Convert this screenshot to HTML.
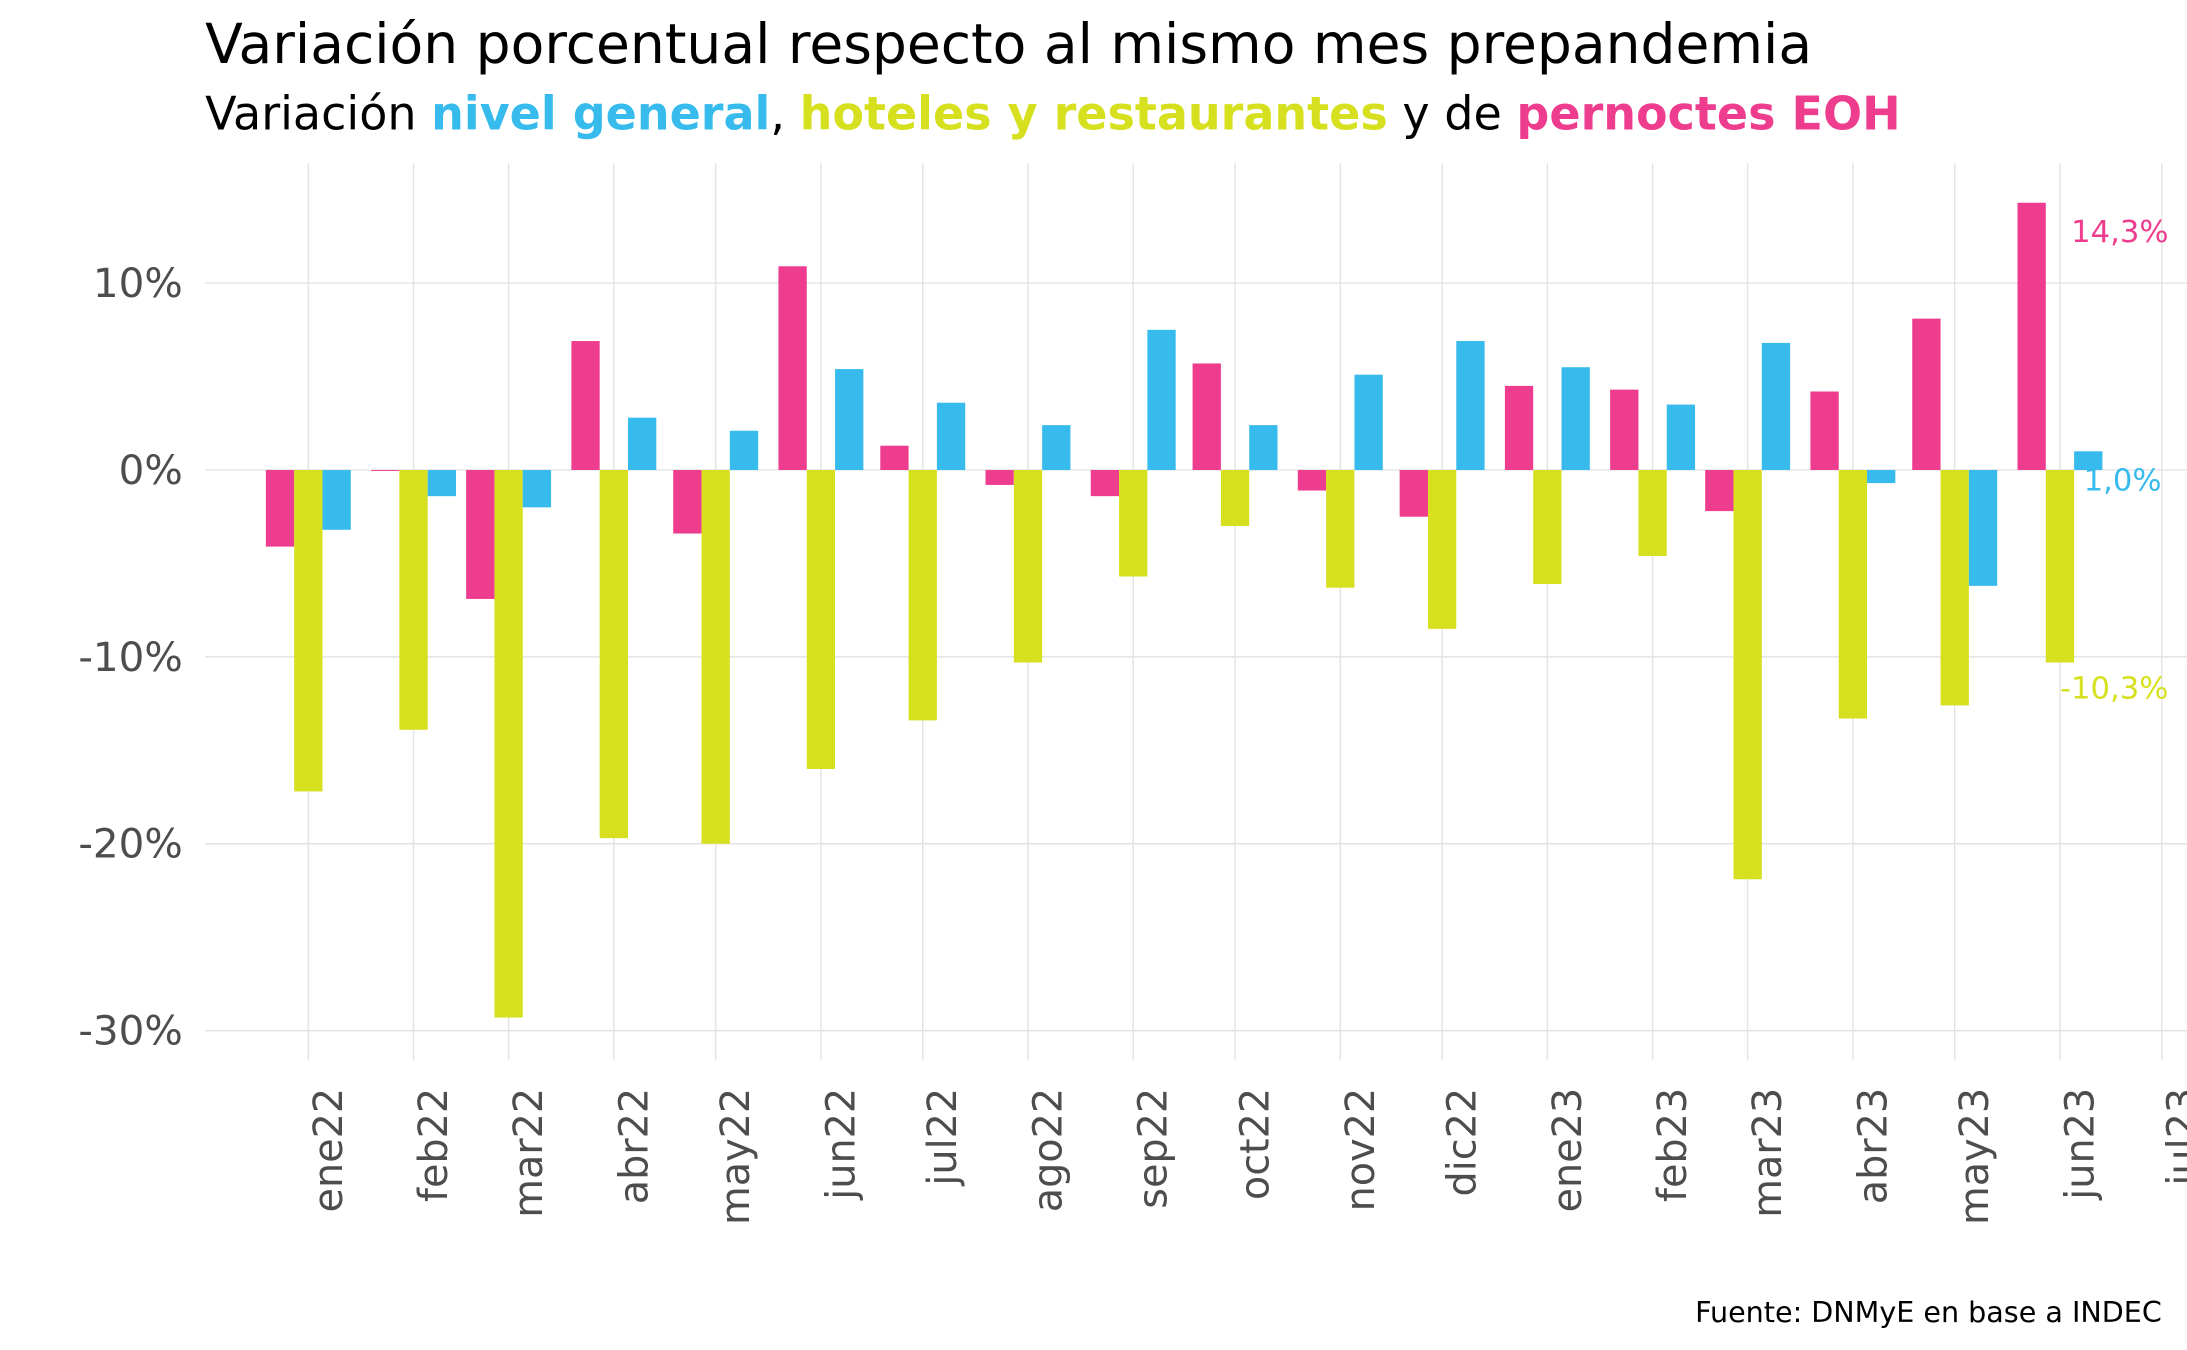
<!DOCTYPE html>
<html><head><meta charset="utf-8"><style>
html,body{margin:0;padding:0;background:#fff;}
svg{display:block;font-family:"DejaVu Sans","Liberation Sans",sans-serif;}
</style></head><body>
<svg id="chart" width="2187" height="1350" viewBox="0 0 1568 968" xmlns="http://www.w3.org/2000/svg">
<text x="147" y="45" font-size="39.5" fill="#000">Variación porcentual respecto al mismo mes prepandemia</text>
<text x="147" y="93" font-size="33" fill="#000">Variación <tspan font-weight="bold" fill="#37BBED">nivel general</tspan>, <tspan font-weight="bold" fill="#D7E01F">hoteles y restaurantes</tspan> y de <tspan font-weight="bold" fill="#EE3D8F">pernoctes EOH</tspan></text>
<g id="grid"></g><g id="bars"></g><g id="labels"></g>
<text x="1550" y="948" font-size="20.5" text-anchor="end" fill="#000">Fuente: DNMyE en base a INDEC</text>
</svg>
<script>
const categories=["ene22","feb22","mar22","abr22","may22","jun22","jul22","ago22","sep22","oct22","nov22","dic22","ene23","feb23","mar23","abr23","may23","jun23"];
const tickLabels=["ene22","feb22","mar22","abr22","may22","jun22","jul22","ago22","sep22","oct22","nov22","dic22","ene23","feb23","mar23","abr23","may23","jun23","jul23"];
const pernoctes=[-4.1,-0.05,-6.9,6.9,-3.4,10.9,1.3,-0.8,-1.4,5.7,-1.1,-2.5,4.5,4.3,-2.2,4.2,8.1,14.3];
const hoteles=[-17.2,-13.9,-29.3,-19.7,-20.0,-16.0,-13.4,-10.3,-5.7,-3.0,-6.3,-8.5,-6.1,-4.6,-21.9,-13.3,-12.6,-10.3];
const general=[-3.2,-1.4,-2.0,2.8,2.1,5.4,3.6,2.4,7.5,2.4,5.1,6.9,5.5,3.5,6.8,-0.7,-6.2,1.0];
const yTicks=[10,0,-10,-20,-30];

const NS="http://www.w3.org/2000/svg";
const monthIdx={ene:0,feb:1,mar:2,abr:3,may:4,jun:5,jul:6,ago:7,sep:8,oct:9,nov:10,dic:11};
function dayOf(lbl){const m=monthIdx[lbl.slice(0,3)],y=2000+parseInt(lbl.slice(3));return (Date.UTC(y,m,1)-Date.UTC(2022,0,1))/86400000;}
const x=d=>221+d*(1329/546);
const y=v=>337-v*13.4;
function el(tag,attrs,parent){const e=document.createElementNS(NS,tag);for(const k in attrs)e.setAttribute(k,attrs[k]);parent.appendChild(e);return e;}
const grid=document.getElementById('grid'),bars=document.getElementById('bars'),labels=document.getElementById('labels');
yTicks.forEach(t=>{
 const l=el('line',{x1:147,x2:1568,y1:y(t),y2:y(t),stroke:'#e3e3e3','stroke-width':1},grid);
 
 
 const tx=el('text',{x:131,y:y(t)+10,'text-anchor':'end','font-size':29,fill:'#4d4d4d'},labels);
 tx.textContent=t+'%';
 
 
});
tickLabels.forEach(lb=>{
 const xx=x(dayOf(lb));
 const l=el('line',{x1:xx,x2:xx,y1:117,y2:760,stroke:'#e3e3e3','stroke-width':1},grid);
 
 
 const tx=el('text',{transform:`translate(${xx+24},780) rotate(-90)`,'text-anchor':'end','font-size':28.5,fill:'#4d4d4d'},labels);
 tx.textContent=lb;
 
 
});
const series=[[pernoctes,'#EE3D8F',-1,'bar-pernoctes'],[hoteles,'#D7E01F',0,'bar-hoteles'],[general,'#37BBED',1,'bar-general']];
const bw=20.3;
categories.forEach((c,i)=>{
 const cx=x(dayOf(c));
 series.forEach(([arr,col,off,nm])=>{
  const v=arr[i];
  const r=el('rect',{x:cx+off*bw-bw/2,y:Math.min(y(v),y(0)),width:bw,height:Math.max(Math.abs(y(v)-y(0)),0.5),fill:col},bars);
  
  
 });
});
const li=categories.length-1;
const fmt=v=>v.toFixed(1).replace('.',',')+'%';
const lastX=x(dayOf(categories[li]));
const ann=[[pernoctes[li],'#EE3D8F',lastX+8,y(pernoctes[li])+28,'label-pernoctes'],
 [general[li],'#37BBED',lastX+17,y(general[li])+28,'label-general'],
 [hoteles[li],'#D7E01F',lastX,y(hoteles[li])+26,'label-hoteles']];
ann.forEach(([v,col,ax,ay,nm])=>{
 const tx=el('text',{x:ax,y:ay,'font-size':22,fill:col},labels);
 tx.textContent=fmt(v);
 
 
});
</script>
</body></html>
